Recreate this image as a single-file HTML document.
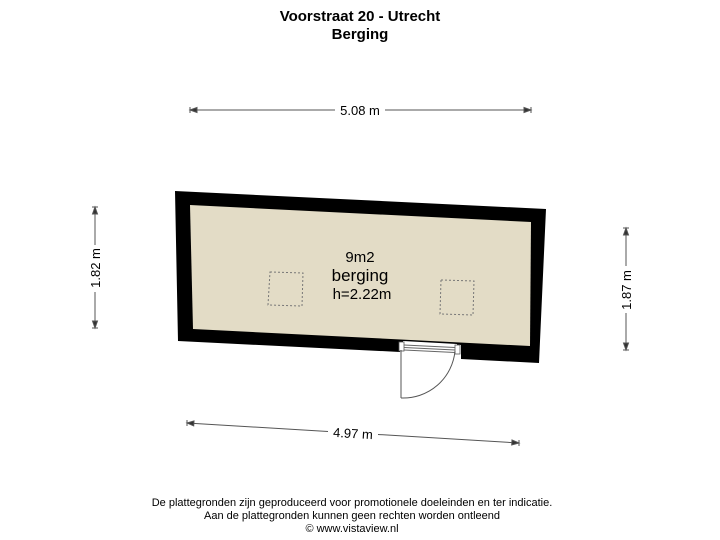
<!DOCTYPE html>
<html><head><style>
html,body{margin:0;padding:0;background:#fff;width:720px;height:540px;overflow:hidden}
svg{display:block}
text{font-family:"Liberation Sans",Arial,sans-serif;fill:#000}
</style></head><body>
<svg width="720" height="540" viewBox="0 0 720 540">
<text x="360" y="21" font-size="15" font-weight="bold" text-anchor="middle">Voorstraat 20 - Utrecht</text>
<text x="360" y="39" font-size="15" font-weight="bold" text-anchor="middle">Berging</text>

<!-- walls -->
<polygon points="175,191 546,209 539,363 461,359 461,345 400,342 400,352 178,341" fill="#000"/>
<polygon points="190,205 531,222 530,346 193,329" fill="#e3dcc6"/>
<!-- door opening -->
<polygon points="403,341 457,344 457,358 403,355" fill="#fff"/>
<rect x="399" y="342" width="5" height="9" fill="#fff" stroke="#555" stroke-width="0.8"/>
<rect x="455" y="345" width="5" height="9" fill="#fff" stroke="#555" stroke-width="0.8"/>
<line x1="404" y1="345" x2="455" y2="347.5" stroke="#666" stroke-width="1"/>
<line x1="404" y1="347.5" x2="455" y2="350" stroke="#666" stroke-width="1"/>
<line x1="404" y1="350" x2="455" y2="352.5" stroke="#666" stroke-width="1"/>
<line x1="401" y1="350" x2="401" y2="398" stroke="#555" stroke-width="1"/>
<path d="M401,398 A52,52 0 0 0 455,351" fill="none" stroke="#555" stroke-width="1"/>

<!-- dashed squares -->
<polygon points="270,272 303,273 302,306 268,305" fill="none" stroke="#777" stroke-width="1" stroke-dasharray="2,2"/>
<polygon points="441,280 474,281 473,315 440,314" fill="none" stroke="#777" stroke-width="1" stroke-dasharray="2,2"/>

<text x="360" y="262" font-size="15" text-anchor="middle">9m2</text>
<text x="360" y="281" font-size="17" text-anchor="middle">berging</text>
<text x="362" y="299" font-size="15" text-anchor="middle">h=2.22m</text>

<!-- dims -->
<g stroke="#555" stroke-width="1" fill="#333">
<line x1="190" y1="110" x2="335" y2="110"/>
<line x1="385" y1="110" x2="531" y2="110"/>
<polygon points="190,110 197,107.5 197,112.5"/><line x1="190" y1="107" x2="190" y2="113"/>
<polygon points="531,110 524,107.5 524,112.5"/><line x1="531" y1="107" x2="531" y2="113"/>

<line x1="187" y1="423" x2="328" y2="431.5"/>
<line x1="378" y1="434.5" x2="519" y2="443"/>
<polygon points="187,423 194,420.9 193.7,425.9"/><line x1="187" y1="420" x2="187" y2="426"/>
<polygon points="519,443 512,440 511.7,445"/><line x1="519" y1="440" x2="519" y2="446"/>

<line x1="95" y1="207" x2="95" y2="245"/>
<line x1="95" y1="292" x2="95" y2="328"/>
<polygon points="95,207 92.5,214 97.5,214"/><line x1="92" y1="207" x2="98" y2="207"/>
<polygon points="95,328 92.5,321 97.5,321"/><line x1="92" y1="328" x2="98" y2="328"/>

<line x1="626" y1="228" x2="626" y2="266"/>
<line x1="626" y1="313" x2="626" y2="350"/>
<polygon points="626,228 623.5,235 628.5,235"/><line x1="623" y1="228" x2="629" y2="228"/>
<polygon points="626,350 623.5,343 628.5,343"/><line x1="623" y1="350" x2="629" y2="350"/>
</g>
<text x="360" y="115" font-size="13" text-anchor="middle">5.08 m</text>
<text x="353" y="438" font-size="13" text-anchor="middle" transform="rotate(3.4 353 433)">4.97 m</text>
<text x="0" y="0" font-size="13" text-anchor="middle" transform="translate(100 268) rotate(-90)">1.82 m</text>
<text x="0" y="0" font-size="13" text-anchor="middle" transform="translate(631 290) rotate(-90)">1.87 m</text>

<text x="352" y="506" font-size="11" text-anchor="middle">De plattegronden zijn geproduceerd voor promotionele doeleinden en ter indicatie.</text>
<text x="352" y="519" font-size="11" text-anchor="middle">Aan de plattegronden kunnen geen rechten worden ontleend</text>
<text x="352" y="532" font-size="11" text-anchor="middle">© www.vistaview.nl</text>
</svg>
</body></html>
